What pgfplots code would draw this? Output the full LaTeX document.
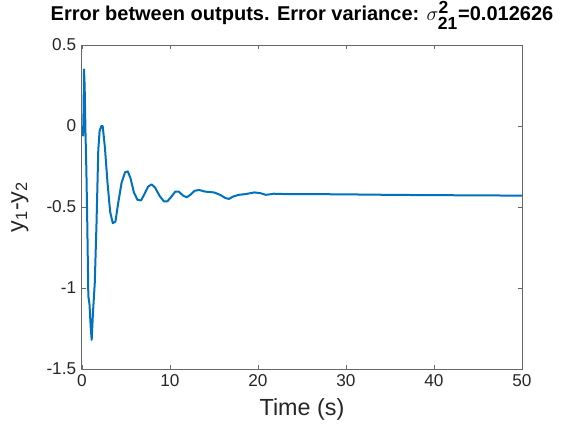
\documentclass[border=0pt]{standalone}
\usepackage{amsmath}
\usepackage{pgfplots}
\pgfplotsset{compat=1.18}
\usepackage{fontspec}
\setmainfont{Liberation Sans}
\definecolor{mblue}{rgb}{0,0.447,0.741}
\definecolor{maxis}{rgb}{0.15,0.15,0.15}
\newcommand{\scr}[1]{\mbox{\fontsize{10.5}{10.5}\selectfont\bfseries #1}}
\begin{document}
\begin{tikzpicture}
\begin{axis}[
    scale only axis,
    width=264pt, height=194.4pt,
    xmin=0, xmax=50, ymin=-1.5, ymax=0.5,
    xtick={0,10,20,30,40,50},
    xticklabels={0,10,20,30,40,50},
    ytick={-1.5,-1,-0.5,0,0.5},
    yticklabels={-1.5,-1,-0.5,0,0.5},
    tick pos=both, tick align=inside,
    major tick length=2.5pt,
    axis line style={draw=maxis!70, line width=0.6pt},
    every tick/.style={draw=maxis!70, line width=0.5pt},
    tick label style={font=\fontsize{10.3}{12}\selectfont, text=maxis},
    xlabel={Time (s)},
    ylabel={y\textsubscript{1}-y\textsubscript{2}},
    label style={font=\fontsize{14}{16}\selectfont, text=maxis},
    xlabel style={yshift=0pt},
    ylabel style={yshift=4pt},
    title={\textbf{Error between outputs. Error variance: }$\sigma^{\scr{2}}_{\scr{21}}$\textbf{=0.012626}},
    title style={font=\fontsize{12}{14}\selectfont, yshift=0pt},
]
\addplot[color=mblue, line width=1.2pt, line join=round] coordinates {
(0,0) (0.05,-0.02) (0.12,-0.06) (0.18,0.1) (0.23,0.35) (0.3,0.25)
(0.4,-0.05) (0.5,-0.28) (0.6,-0.6) (0.72,-1.05) (0.85,-1.1)
(1.0,-1.25) (1.1,-1.32) (1.25,-1.15) (1.45,-0.97) (1.65,-0.6)
(1.85,-0.15) (2.0,-0.03) (2.2,0.0) (2.35,0.0) (2.6,-0.13)
(2.9,-0.35) (3.2,-0.53) (3.5,-0.6) (3.8,-0.59) (4.1,-0.48)
(4.5,-0.35) (4.9,-0.285) (5.2,-0.28) (5.5,-0.32) (5.9,-0.41)
(6.3,-0.455) (6.7,-0.46) (7.1,-0.42) (7.5,-0.375) (7.9,-0.36)
(8.3,-0.38) (8.8,-0.43) (9.3,-0.465) (9.7,-0.465) (10.1,-0.44)
(10.6,-0.405) (11.0,-0.405) (11.5,-0.43) (11.9,-0.44) (12.3,-0.425)
(12.8,-0.40) (13.3,-0.395) (14.0,-0.405) (15.0,-0.41) (15.7,-0.425)
(16.3,-0.445) (16.7,-0.45) (17.2,-0.435) (17.8,-0.425) (18.6,-0.42)
(19.6,-0.41) (20.3,-0.415) (20.9,-0.425) (21.8,-0.418) (23,-0.42)
(25,-0.42) (30,-0.422) (35,-0.425) (40,-0.427) (45,-0.428) (50,-0.43)
};
\end{axis}
\pgfresetboundingbox
\path[use as bounding box] ([xshift=-49.2pt,yshift=-36.6pt]current axis.south west)
    rectangle ([xshift=30pt,yshift=27pt]current axis.north east);
\end{tikzpicture}
\end{document}
